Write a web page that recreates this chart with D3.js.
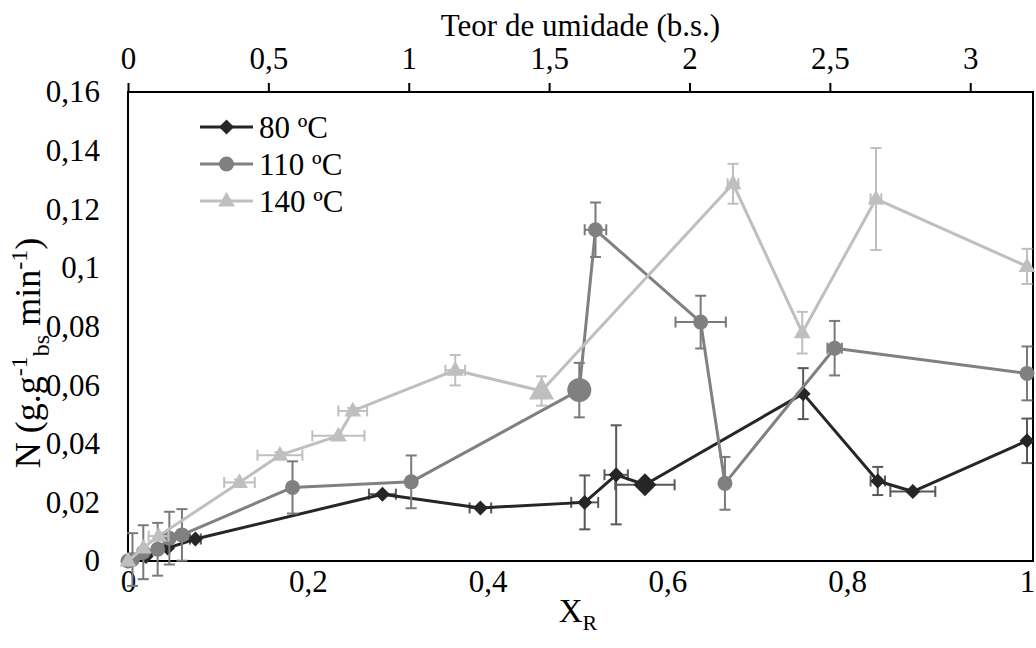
<!DOCTYPE html>
<html>
<head>
<meta charset="utf-8">
<script src="https://cdn.jsdelivr.net/npm/d3@7"></script>
<style>
  body { margin: 0; background: #fff; }
  svg { display: block; }
  text { font-family: "Liberation Serif", "Times New Roman", serif; fill: #000; }
</style>
</head>
<body>
<svg id="chart" width="1036" height="648"></svg>
<script>
// ---- data -------------------------------------------------------------
const seriesNames = ["80 ºC", "110 ºC", "140 ºC"];

const xTickValues = [0, 0.2, 0.4, 0.6, 0.8, 1];
const yTickValues = [0, 0.02, 0.04, 0.06, 0.08, 0.1, 0.12, 0.14, 0.16];
const topTickValues = [0, 0.5, 1, 1.5, 2, 2.5, 3];

// 80 ºC
const xr80  = [0, 0.02, 0.044, 0.075, 0.283, 0.392, 0.508, 0.543, 0.575, 0.751, 0.834, 0.873, 1.0];
const n80   = [0, 0.0015, 0.0044, 0.0075, 0.0228, 0.0181, 0.020, 0.0294, 0.026, 0.0571, 0.0273, 0.0237, 0.041];
const ex80  = [0, 0, 0, 0.006, 0.015, 0.012, 0.015, 0.013, 0.033, 0, 0.008, 0.025, 0];
const en80  = [0, 0, 0, 0, 0, 0, 0.0092, 0.0169, 0, 0.0087, 0.0048, 0, 0.0076];

// 110 ºC
const xr110 = [0, 0.005, 0.017, 0.033, 0.046, 0.06, 0.183, 0.315, 0.502, 0.52, 0.637, 0.664, 0.786, 1.0];
const n110  = [0, 0.0005, 0.003, 0.004, 0.0078, 0.0089, 0.0251, 0.027, 0.0583, 0.113, 0.0815, 0.0265, 0.0726, 0.064];
const ex110 = [0, 0, 0, 0, 0, 0, 0, 0, 0, 0.012, 0.028, 0, 0.008, 0];
const en110 = [0, 0.009, 0.0092, 0.009, 0.009, 0.0088, 0.0089, 0.009, 0.0093, 0.0093, 0.009, 0.009, 0.0093, 0.0092];

// 140 ºC
const xr140 = [0, 0.017, 0.034, 0.124, 0.169, 0.234, 0.25, 0.364, 0.46, 0.673, 0.75, 0.832, 1.0];
const n140  = [0, 0.0045, 0.0085, 0.0268, 0.0361, 0.0427, 0.0512, 0.0651, 0.058, 0.1287, 0.0779, 0.1235, 0.1005];
const ex140 = [0, 0, 0.011, 0.017, 0.025, 0.029, 0.016, 0.011, 0, 0.006, 0, 0.006, 0];
const en140 = [0, 0, 0, 0.001, 0.001, 0, 0.001, 0.0052, 0.005, 0.0068, 0.0071, 0.0174, 0.006];

// ---- layout & style ---------------------------------------------------
const plot = { left: 128, right: 1033, top: 92, bottom: 561 };
const FONT = 31;

const styles = [
  { color: "#262626", err: "#595959", shape: "diamond", size: 7.5, bigSize: 11.5, big: 8 },
  { color: "#808080", err: "#7a7a7a", shape: "circle",  size: 7.5, bigSize: 12,   big: 8 },
  { color: "#bfbfbf", err: "#bfbfbf", shape: "triangle",size: 8,   bigSize: 12,   big: 8 }
];

const rows = (xs, ns, exs, ens) => xs.map((x, i) => ({ x, n: ns[i], ex: exs[i], en: ens[i], i }));
const series = [
  { name: seriesNames[0], pts: rows(xr80, n80, ex80, en80), st: styles[0] },
  { name: seriesNames[1], pts: rows(xr110, n110, ex110, en110), st: styles[1] },
  { name: seriesNames[2], pts: rows(xr140, n140, ex140, en140), st: styles[2] }
];

// ---- scales -----------------------------------------------------------
const x = d3.scaleLinear().domain([0, 1]).range([plot.left, 1027]);
const y = d3.scaleLinear().domain([0, 0.16]).range([plot.bottom, plot.top]);
const xTop = d3.scaleLinear().domain([0, 3.22]).range([plot.left, 1032]);

const fmt = d3.formatLocale({ decimal: ",", thousands: ".", grouping: [3], currency: ["", ""] }).format("~g");

const svg = d3.select("#chart");

// ---- axes -------------------------------------------------------------
const gx = svg.append("g").attr("transform", `translate(0,${plot.bottom})`)
  .call(d3.axisBottom(x).tickValues(xTickValues).tickSize(0).tickPadding(9).tickFormat(fmt));
const gy = svg.append("g").attr("transform", `translate(${plot.left},0)`)
  .call(d3.axisLeft(y).tickValues(yTickValues).tickSize(0).tickPadding(28).tickFormat(fmt));
const gt = svg.append("g").attr("transform", `translate(0,${plot.top})`)
  .call(d3.axisTop(xTop).tickValues(topTickValues).tickSize(9).tickPadding(14).tickFormat(fmt));

[gx, gy, gt].forEach(g => {
  g.select(".domain").remove();
  g.selectAll("text").attr("font-size", FONT).attr("font-family", "Liberation Serif").attr("fill", "#000");
});
gt.selectAll(".tick line").attr("stroke", "#000").attr("stroke-width", 2);

// frame
svg.append("rect")
  .attr("x", plot.left).attr("y", plot.top)
  .attr("width", plot.right - plot.left).attr("height", plot.bottom - plot.top)
  .attr("fill", "none").attr("stroke", "#000").attr("stroke-width", 2);

// ---- titles -----------------------------------------------------------
svg.append("text")
  .attr("x", (plot.left + plot.right) / 2).attr("y", 36)
  .attr("text-anchor", "middle").attr("font-size", FONT)
  .text("Teor de umidade (b.s.)");

const xt = svg.append("text")
  .attr("x", 578).attr("y", 622)
  .attr("text-anchor", "middle").attr("font-size", 33);
xt.append("tspan").text("X");
xt.append("tspan").attr("font-size", 22).attr("dy", 8).text("R");

const yt = svg.append("text")
  .attr("transform", `translate(40,353) rotate(-90)`)
  .attr("text-anchor", "middle").attr("font-size", 36);
yt.append("tspan").text("N (g.g");
yt.append("tspan").attr("font-size", 24).attr("dy", -13).text("-1");
yt.append("tspan").attr("font-size", 24).attr("dy", 22).text("bs");
yt.append("tspan").attr("dy", -9).text(" min");
yt.append("tspan").attr("font-size", 24).attr("dy", -13).text("-1");
yt.append("tspan").attr("dy", 13).text(")");

// ---- marker shapes ----------------------------------------------------
function markerPath(shape, r) {
  if (shape === "diamond") return `M0,${-r}L${r},0L0,${r}L${-r},0Z`;
  if (shape === "triangle") {
    const w = r * 2.1, h = r * 1.85;
    return `M0,${-h * 0.62}L${w / 2},${h * 0.38}L${-w / 2},${h * 0.38}Z`;
  }
  return d3.arc()({ innerRadius: 0, outerRadius: r, startAngle: 0, endAngle: 2 * Math.PI });
}

// ---- series -----------------------------------------------------------
const line = d3.line().x(d => x(d.x)).y(d => y(d.n));
const CAP = 5.5;

series.forEach(s => {
  const g = svg.append("g");
  const st = s.st;

  // error bars
  const eb = g.append("g").attr("stroke", st.err).attr("stroke-width", 2).attr("fill", "none");
  s.pts.filter(d => d.en > 0).forEach(d => {
    const cx = x(d.x), y1 = y(d.n - d.en), y2 = y(d.n + d.en);
    eb.append("line").attr("x1", cx).attr("x2", cx).attr("y1", y1).attr("y2", y2);
    eb.append("line").attr("x1", cx - CAP).attr("x2", cx + CAP).attr("y1", y1).attr("y2", y1);
    eb.append("line").attr("x1", cx - CAP).attr("x2", cx + CAP).attr("y1", y2).attr("y2", y2);
  });
  s.pts.filter(d => d.ex > 0).forEach(d => {
    const cy = y(d.n), x1 = x(d.x - d.ex), x2 = x(d.x + d.ex);
    eb.append("line").attr("x1", x1).attr("x2", x2).attr("y1", cy).attr("y2", cy);
    eb.append("line").attr("x1", x1).attr("x2", x1).attr("y1", cy - CAP).attr("y2", cy + CAP);
    eb.append("line").attr("x1", x2).attr("x2", x2).attr("y1", cy - CAP).attr("y2", cy + CAP);
  });

  // connecting line
  g.append("path").datum(s.pts).attr("d", line)
    .attr("fill", "none").attr("stroke", st.color).attr("stroke-width", 3)
    .attr("stroke-linejoin", "round");

  // markers
  g.selectAll(".m").data(s.pts).join("path")
    .attr("class", "m")
    .attr("transform", d => `translate(${x(d.x)},${y(d.n)})`)
    .attr("d", d => markerPath(st.shape, d.i === st.big ? st.bigSize : st.size))
    .attr("fill", st.color);
});

// ---- legend -----------------------------------------------------------
const legendRows = [127, 164, 201];
series.forEach((s, k) => {
  const g = svg.append("g").attr("transform", `translate(200,${legendRows[k]})`);
  g.append("line").attr("x1", 0).attr("x2", 53).attr("y1", 0).attr("y2", 0)
    .attr("stroke", s.st.color).attr("stroke-width", 3);
  g.append("path").attr("transform", "translate(26.5,0)")
    .attr("d", markerPath(s.st.shape, s.st.size)).attr("fill", s.st.color);
  g.append("text").attr("x", 59).attr("y", 11).attr("font-size", FONT).text(s.name);
});
</script>
</body>
</html>
